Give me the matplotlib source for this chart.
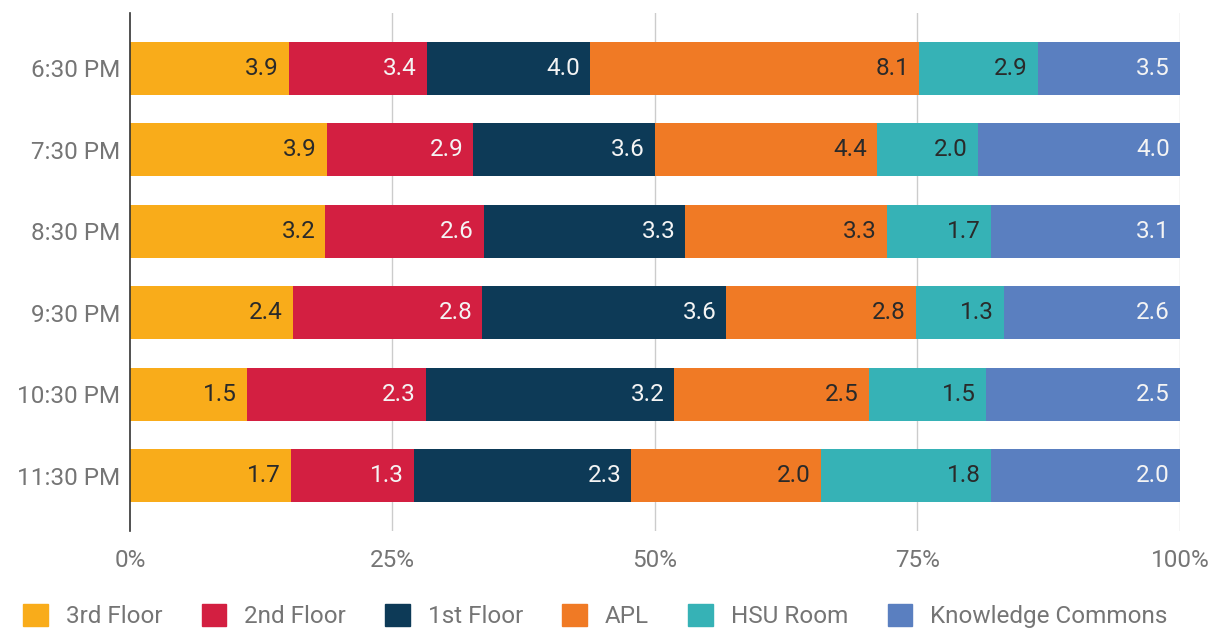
import matplotlib
matplotlib.use("Agg")
import matplotlib.pyplot as plt
from matplotlib.patches import Patch
import numpy as np

plt.rcParams['font.family'] = ['Roboto', 'DejaVu Sans']

times = ["6:30 PM", "7:30 PM", "8:30 PM", "9:30 PM", "10:30 PM", "11:30 PM"]
third_floor = [3.9, 3.9, 3.2, 2.4, 1.5, 1.7]
second_floor = [3.4, 2.9, 2.6, 2.8, 2.3, 1.3]
first_floor = [4.0, 3.6, 3.3, 3.6, 3.2, 2.3]
apl = [8.1, 4.4, 3.3, 2.8, 2.5, 2.0]
hsu_room = [2.9, 2.0, 1.7, 1.3, 1.5, 1.8]
knowledge_commons = [3.5, 4.0, 3.1, 2.6, 2.5, 2.0]

names = ["3rd Floor", "2nd Floor", "1st Floor", "APL", "HSU Room", "Knowledge Commons"]
colors = ["#F9AC1A", "#D31F41", "#0D3A57", "#F07A25", "#36B2B6", "#5A7FC0"]
text_colors = ["#2a2a2a", "#f4f4f4", "#f4f4f4", "#2a2a2a", "#2a2a2a", "#f4f4f4"]
ticks = [0, 25, 50, 75, 100]

series = [third_floor, second_floor, first_floor, apl, hsu_room, knowledge_commons]
data = np.array(series, dtype=float)
totals = data.sum(axis=0)
pct = data / totals * 100

fs = 17.5

fig = plt.figure(figsize=(12.23, 6.3), dpi=100)
ax = fig.add_axes([0.1063, 0.157, 0.8585, 0.8224])

y = np.arange(len(times))
left = np.zeros(len(times))
for i in range(len(series)):
    ax.barh(y, pct[i], left=left, height=0.65, color=colors[i], zorder=3)
    for j in range(len(times)):
        ax.text(left[j] + pct[i][j] - 0.95, y[j], "%.1f" % data[i][j],
                ha="right", va="center", fontsize=fs, color=text_colors[i], zorder=4)
    left += pct[i]

ax.set_ylim(len(times) - 1 + 0.68, -0.68)
ax.set_xlim(0, 100)
ax.set_yticks(y)
ax.set_yticklabels(times, fontsize=fs, color="#757575")
ax.set_xticks(ticks)
ax.set_xticklabels([str(t) + "%" for t in ticks], fontsize=fs, color="#757575")
ax.tick_params(length=0)
ax.tick_params(axis="y", pad=7)
ax.tick_params(axis="x", pad=13)
for t in ticks[1:]:
    ax.axvline(t, color="#cccccc", linewidth=1, zorder=1)
for s in ["top", "right", "bottom"]:
    ax.spines[s].set_visible(False)
ax.spines["left"].set_color("#333333")
ax.spines["left"].set_linewidth(1.2)
ax.spines["left"].set_zorder(5)

handles = [Patch(facecolor=c, edgecolor=c) for c in colors]
fig.legend(handles, names, loc="center left", bbox_to_anchor=(0.019, 0.022), ncol=6,
           frameon=False, fontsize=fs, handlelength=1.0, handleheight=1.0,
           handletextpad=0.75, columnspacing=1.62, labelcolor="#757575",
           borderpad=0.0, borderaxespad=0.0)

fig.savefig("out.png", dpi=100)
